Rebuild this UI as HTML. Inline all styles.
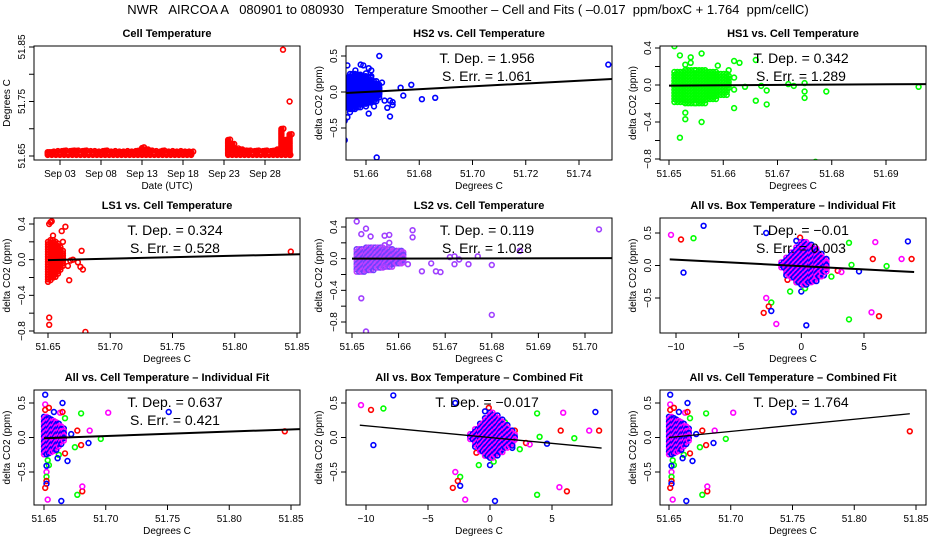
<!DOCTYPE html>
<html><head><meta charset="utf-8">
<style>
html,body{margin:0;padding:0;background:#fff;}
svg{display:block;font-family:"Liberation Sans",sans-serif;}
</style></head>
<body>
<svg id="chart" width="936" height="540" viewBox="0 0 936 540">
<text x="468" y="14" text-anchor="middle" font-size="13" xml:space="preserve">NWR   AIRCOA A   080901 to 080930   Temperature Smoother – Cell and Fits ( –0.017  ppm/boxC + 1.764  ppm/cellC)</text>
</svg>
<script>
// ---------- data ----------
const tempDay = [1.5,2,2.5,3,3.5,4,4.5,5,5.5,6,6.5,7,7.5,8,8.5,9,9.5,10,10.5,11,11.5,12,12.5,13,13.5,14,14.5,15,15.5,16,16.5,17,17.5,18,18.5,19,23.5,24,24.5,25,25.5,26,26.5,27,27.5,28,28.5,29,29.5,30,30.5,31];
const tempHi = [51.657,51.658,51.659,51.659,51.66,51.659,51.66,51.66,51.659,51.66,51.659,51.659,51.658,51.659,51.66,51.658,51.659,51.658,51.658,51.659,51.658,51.659,51.66,51.666,51.662,51.66,51.659,51.658,51.66,51.658,51.659,51.658,51.659,51.658,51.658,51.658,51.68,51.672,51.664,51.662,51.66,51.66,51.659,51.66,51.659,51.66,51.659,51.66,51.662,51.70,51.68,51.69];
const tempSpikeDay = [30.2, 31.0, 31.1];
const tempSpikeVal = [51.845, 51.75, 51.652];

const hs2X = [51.651,51.665,51.653,51.658,51.659,51.656,51.661,51.662,51.660,51.662,51.666,51.677,51.673,51.674,51.681,51.686,51.667,51.669,51.670,51.670,51.668,51.669,51.661,51.660,51.663,51.653,51.654,51.652,51.652,51.664,51.751];
const hs2Y = [0.62,0.5,0.37,0.38,0.37,0.3,0.33,0.3,0.26,0.22,0.13,0.1,0.06,-0.05,-0.1,-0.08,-0.12,-0.12,-0.14,-0.18,-0.22,-0.34,-0.3,-0.2,-0.2,-0.35,-0.28,-0.4,-0.67,-0.91,0.38];
const hs2BlobX = [51.6525,51.654,51.656,51.658,51.660,51.662,51.664,51.665];
const hs2BlobLo = [-0.25,-0.25,-0.22,-0.18,-0.17,-0.16,-0.1,-0.05];
const hs2BlobHi = [0.2,0.25,0.24,0.22,0.2,0.15,0.1,0.05];

const hs1X = [51.651,51.652,51.654,51.656,51.653,51.654,51.659,51.662,51.663,51.666,51.661,51.662,51.664,51.667,51.668,51.672,51.673,51.675,51.675,51.675,51.679,51.666,51.668,51.662,51.653,51.653,51.656,51.652,51.677,51.696,51.662];
const hs1Y = [0.42,0.32,0.3,0.34,0.22,0.24,0.21,0.26,0.24,0.27,0.16,0.08,-0.02,-0.01,-0.06,0.01,-0.01,0.02,-0.07,-0.14,-0.07,-0.17,-0.21,-0.25,-0.3,-0.37,-0.4,-0.57,-0.83,-0.02,-0.05];
const hs1BlobX = [51.651,51.653,51.655,51.657,51.659,51.661];
const hs1BlobLo = [-0.2,-0.22,-0.2,-0.16,-0.12,-0.05];
const hs1BlobHi = [0.14,0.16,0.16,0.14,0.12,0.1];

const ls1X = [51.651,51.652,51.653,51.654,51.661,51.664,51.662,51.666,51.668,51.670,51.674,51.676,51.678,51.677,51.667,51.651,51.651,51.680,51.845];
const ls1Y = [0.4,0.42,0.43,0.27,0.32,0.37,0.2,-0.07,-0.01,0,-0.03,-0.08,-0.11,0.1,-0.23,-0.65,-0.73,-0.81,0.09];
const ls1BlobX = [51.650,51.652,51.654,51.656,51.658,51.660,51.662];
const ls1BlobLo = [-0.25,-0.25,-0.22,-0.2,-0.18,-0.14,-0.08];
const ls1BlobHi = [0.2,0.22,0.22,0.2,0.18,0.14,0.1];

const ls2X = [51.651,51.653,51.652,51.654,51.657,51.658,51.657,51.658,51.663,51.663,51.662,51.665,51.667,51.668,51.669,51.671,51.672,51.672,51.673,51.675,51.677,51.680,51.686,51.703,51.652,51.653,51.680,51.657];
const ls2Y = [0.47,0.38,0.31,0.28,0.29,0.3,0.17,0.2,0.36,0.27,-0.07,-0.16,-0.06,-0.16,-0.17,0.02,0.03,-0.07,-0.01,-0.07,0.03,-0.08,0.1,0.37,-0.5,-0.92,-0.71,-0.1];
const ls2BlobX = [51.651,51.653,51.655,51.657,51.659,51.661];
const ls2BlobLo = [-0.18,-0.16,-0.14,-0.12,-0.08,-0.06];
const ls2BlobHi = [0.12,0.14,0.14,0.12,0.1,0.08];

const boxX = [-10.4,-9.6,-8.6,-7.8,-9.4,-2.8,-2.8,-2.4,-2.6,-2.4,-3,-2,0.4,3.8,5.6,6.2,3.8,5.9,8.5,5.7,8,8.8,6.8,4,4.6,2.4,1.8,2,-0.9,0,0.3,-1.1,-0.4,-0.1,-0.4,2.9,3.2,1.2];
const boxY = [0.47,0.4,0.42,0.61,-0.11,0.5,-0.5,-0.57,-0.63,-0.7,-0.73,-0.9,-0.92,-0.83,-0.72,-0.78,0.35,0.36,0.37,0.1,0.1,0.1,-0.01,0.01,-0.09,-0.17,-0.15,0.1,-0.4,-0.4,-0.35,-0.22,-0.25,0.43,0.38,-0.08,-0.1,0.22];
const boxC = ['m','r','g','b','b','b','m','g','r','b','r','m','b','g','m','r','g','m','b','r','m','r','g','g','b','g','b','r','g','b','g','r','g','r','b','r','m','g'];
const boxBlobX = [-1.6,-1.2,-0.8,-0.4,0,0.4,0.8,1.2,1.6,2.0];
const boxBlobLo = [-0.05,-0.15,-0.22,-0.27,-0.3,-0.28,-0.24,-0.18,-0.12,-0.06];
const boxBlobHi = [0.05,0.12,0.2,0.28,0.36,0.32,0.26,0.18,0.1,0.04];

const cellX = [51.651,51.651,51.651,51.654,51.665,51.658,51.663,51.665,51.667,51.680,51.702,51.751,51.666,51.672,51.677,51.687,51.696,51.686,51.680,51.667,51.662,51.675,51.669,51.661,51.654,51.653,51.652,51.652,51.652,51.652,51.652,51.651,51.653,51.664,51.677,51.681,51.681,51.845];
const cellY = [0.62,0.48,0.4,0.43,0.5,0.37,0.36,0.37,0.28,0.35,0.36,0.37,0.13,0.05,0.1,0.1,-0.02,-0.08,-0.11,-0.23,-0.25,-0.14,-0.34,-0.3,-0.4,-0.33,-0.41,-0.5,-0.57,-0.63,-0.67,-0.73,-0.9,-0.92,-0.83,-0.78,-0.71,0.09];
const cellC = ['b','m','r','r','b','b','m','r','g','g','m','b','b','b','r','m','g','b','r','r','g','g','b','b','g','g','b','m','g','r','b','r','m','b','g','r','m','r'];
const cellBlobX = [51.650,51.652,51.654,51.656,51.658,51.660,51.662,51.664,51.666];
const cellBlobLo = [-0.25,-0.25,-0.24,-0.22,-0.2,-0.18,-0.16,-0.12,-0.08];
const cellBlobHi = [0.3,0.3,0.28,0.26,0.24,0.22,0.2,0.16,0.1];

const slopes = [null,1.956,0.342,0.324,0.119,-0.01,0.637,-0.017,1.764];
const intercepts = [null,-0.0,-0.003,-0.005,0.0,-0.01,-0.01,0.0,0.0];
const fitRef = [null,51.66,51.66,51.65,51.65,0,51.65,0,51.65];
const depLabels = [null,'1.956','0.342','0.324','0.119','−0.01','0.637','−0.017','1.764'];
const errLabels = [null,'1.061','1.289','0.528','1.028','0.003','0.421',null,null];

// ---------- rendering ----------
const NS='http://www.w3.org/2000/svg';
const svg=document.getElementById('chart');
const COL={r:'#ff0000',g:'#00ff00',b:'#0000ff',m:'#ff00ff'};
function mk(tag,attrs,parent){const e=document.createElementNS(NS,tag);for(const k in attrs)e.setAttribute(k,attrs[k]);(parent||svg).appendChild(e);return e;}
function lin(d0,p0,d1,p1){return v=>p0+(v-d0)*(p1-p0)/(d1-d0);}

const cols=[[34,300],[346,612],[660,926]];
const rows=[[46,160],[218,333],[390,505]];
const cellTicks=[51.65,51.70,51.75,51.80,51.85];
const cellTickL=['51.65','51.70','51.75','51.80','51.85'];
const boxTicks=[-10,-5,0,5];
const boxTickL=['−10','−5','0','5'];
const y5=[0.5,0,-0.5], y5L=['0.5','0.0','−0.5'];
const y4=[0.4,0.2,0,-0.2,-0.4,-0.6,-0.8], y4L=['0.4','','0.0','','−0.4','','−0.8'];

const panels=[
 {title:'Cell Temperature',c:0,r:0,xs:lin(3,60,28,265),ys:lin(51.65,156,51.85,47),xt:[3,8,13,18,23,28],xl:['Sep 03','Sep 08','Sep 13','Sep 18','Sep 23','Sep 28'],yt:[51.65,51.70,51.75,51.80,51.85],yl:['51.65','','51.75','','51.85'],xlab:'Date (UTC)',ylab:'Degrees C'},
 {title:'HS2 vs. Cell Temperature',c:1,r:0,xs:lin(51.66,366,51.74,579),ys:lin(0.5,56,-0.5,128),xt:[51.66,51.68,51.70,51.72,51.74],xl:['51.66','51.68','51.70','51.72','51.74'],yt:y5,yl:y5L},
 {title:'HS1 vs. Cell Temperature',c:2,r:0,xs:lin(51.65,669,51.69,886),ys:lin(0.4,48,-0.8,159),xt:[51.65,51.66,51.67,51.68,51.69],xl:['51.65','51.66','51.67','51.68','51.69'],yt:y4,yl:y4L},
 {title:'LS1 vs. Cell Temperature',c:0,r:1,xs:lin(51.65,48,51.85,297),ys:lin(0.4,224,-0.8,331),xt:cellTicks,xl:cellTickL,yt:y4,yl:y4L},
 {title:'LS2 vs. Cell Temperature',c:1,r:1,xs:lin(51.65,352,51.70,585),ys:lin(0.4,227,-0.8,322),xt:[51.65,51.66,51.67,51.68,51.69,51.70],xl:['51.65','51.66','51.67','51.68','51.69','51.70'],yt:y4,yl:y4L},
 {title:'All vs. Box Temperature – Individual Fit',c:2,r:1,xs:lin(-10,676,5,864),ys:lin(0.5,233,-0.5,298),xt:boxTicks,xl:boxTickL,yt:y5,yl:y5L},
 {title:'All vs. Cell Temperature – Individual Fit',c:0,r:2,xs:lin(51.65,44,51.85,291),ys:lin(0.5,403,-0.5,472),xt:cellTicks,xl:cellTickL,yt:y5,yl:y5L},
 {title:'All vs. Box Temperature – Combined Fit',c:1,r:2,xs:lin(-10,366,5,552),ys:lin(0.5,403,-0.5,472),xt:boxTicks,xl:boxTickL,yt:y5,yl:y5L},
 {title:'All vs. Cell Temperature – Combined Fit',c:2,r:2,xs:lin(51.65,669,51.85,916),ys:lin(0.5,403,-0.5,472),xt:cellTicks,xl:cellTickL,yt:y5,yl:y5L}
];

function marker(g,px,py,color){
  const c=mk('circle',{cx:px.toFixed(1),cy:py.toFixed(1),r:2.4,fill:'none',stroke:color,'stroke-width':1.6},g);
  
  
}
function blob(g,p,bx,lo,hi,colors,step){
  step=step||2.5;
  for(let i=0;i<bx.length;i++){
    const x0=p.xs(bx[i]);
    const x1=i<bx.length-1?p.xs(bx[i+1]):x0+2;
    const ytop=p.ys(hi[i]), ybot=p.ys(lo[i]);
    for(let x=x0;x<x1;x+=step){
      const ix=Math.round(x/step);
      for(let y=ytop;y<=ybot;y+=step){
        const iy=Math.round(y/step);
        marker(g,x,y,colors[(ix+iy)%colors.length]);
      }
    }
  }
}

panels.forEach((p,idx)=>{
  const [L,R]=cols[p.c],[T,B]=rows[p.r];
  const g=mk('g',{});
  
  
  const cp=mk('clipPath',{id:'cp'+idx},g);mk('rect',{x:L,y:T,width:R-L,height:B-T},cp);
  const t=mk('text',{x:(L+R)/2,y:T-9,'text-anchor':'middle','font-size':11,'font-weight':'bold'},g);t.textContent=p.title;
  
  const plot=mk('g',{'clip-path':'url(#cp'+idx+')'},g);
  if(idx===0){
    for(let i=0;i<tempDay.length;i++){
      for(let v=51.652;v<=tempHi[i]+1e-9;v+=0.0025) marker(plot,p.xs(tempDay[i]),p.ys(v),'#ff0000');
      marker(plot,p.xs(tempDay[i])+2,p.ys(tempHi[i]),'#ff0000');
    }
    for(let i=0;i<tempSpikeDay.length;i++) marker(plot,p.xs(tempSpikeDay[i]),p.ys(tempSpikeVal[i]),'#ff0000');
  } else if(idx===1){blob(plot,p,hs2BlobX,hs2BlobLo,hs2BlobHi,['#0000ff']);hs2X.forEach((x,i)=>marker(plot,p.xs(x),p.ys(hs2Y[i]),'#0000ff'));}
  else if(idx===2){blob(plot,p,hs1BlobX,hs1BlobLo,hs1BlobHi,['#00ff00'],3);hs1X.forEach((x,i)=>marker(plot,p.xs(x),p.ys(hs1Y[i]),'#00ff00'));}
  else if(idx===3){blob(plot,p,ls1BlobX,ls1BlobLo,ls1BlobHi,['#ff0000']);ls1X.forEach((x,i)=>marker(plot,p.xs(x),p.ys(ls1Y[i]),'#ff0000'));}
  else if(idx===4){blob(plot,p,ls2BlobX,ls2BlobLo,ls2BlobHi,['#c040ff','#7040ff']);ls2X.forEach((x,i)=>marker(plot,p.xs(x),p.ys(ls2Y[i]),'#a040ff'));}
  else if(idx===5||idx===7){boxX.forEach((x,i)=>marker(plot,p.xs(x),p.ys(boxY[i]),COL[boxC[i]]));blob(plot,p,boxBlobX,boxBlobLo,boxBlobHi,['#ff00ff','#0000ff']);}
  else {cellX.forEach((x,i)=>marker(plot,p.xs(x),p.ys(cellY[i]),COL[cellC[i]]));blob(plot,p,cellBlobX,cellBlobLo,cellBlobHi,['#ff00ff','#0000ff']);}
  if(idx>0){
    const f=v=>intercepts[idx]+slopes[idx]*(v-fitRef[idx]);
    const d0=(idx===5||idx===7)?-10.5:51.65;
    const d1=(idx===8)?51.845:((idx===5||idx===7)?9:52);
    const ln=mk('line',{x1:p.xs(d0),y1:p.ys(f(d0)),x2:p.xs(d1),y2:p.ys(f(d1)),stroke:'#000','stroke-width':(idx===7||idx===8)?1.3:2},plot);
    
    const cx=(L+R)/2+8;
    const t1=mk('text',{x:cx,y:T+17,'text-anchor':'middle','font-size':14},g);t1.textContent='T. Dep. =  '+depLabels[idx];
    t1.setAttribute('xml:space','preserve');
    
    if(errLabels[idx]){const t2=mk('text',{x:cx,y:T+35,'text-anchor':'middle','font-size':14},g);t2.textContent='S. Err. =  '+errLabels[idx];
      }
  }
  const bx=mk('rect',{x:L,y:T,width:R-L,height:B-T,fill:'none',stroke:'#000','stroke-width':1},g);
  
  p.xt.forEach((v,i)=>{const x=p.xs(v);mk('line',{x1:x,y1:B,x2:x,y2:B+5,stroke:'#000'},g);
    const tl=mk('text',{x:x,y:B+17,'text-anchor':'middle','font-size':10},g);tl.textContent=p.xl[i];
    });
  p.yt.forEach((v,i)=>{const y=p.ys(v);mk('line',{x1:L-5,y1:y,x2:L,y2:y,stroke:'#000'},g);
    if(p.yl[i]){const tl=mk('text',{x:L-9,y:y,'text-anchor':'middle','font-size':10,transform:'rotate(-90 '+(L-9)+' '+y+')'},g);tl.textContent=p.yl[i];
    }});
  const xt=mk('text',{x:(L+R)/2,y:B+29,'text-anchor':'middle','font-size':10},g);xt.textContent=p.xlab||'Degrees C';
  
  const yx=L-24,yy=(T+B)/2;
  const yt=mk('text',{x:yx,y:yy,'text-anchor':'middle','font-size':10,transform:'rotate(-90 '+yx+' '+yy+')'},g);yt.textContent=p.ylab||'delta CO2 (ppm)';
  
});
</script>
</body></html>
